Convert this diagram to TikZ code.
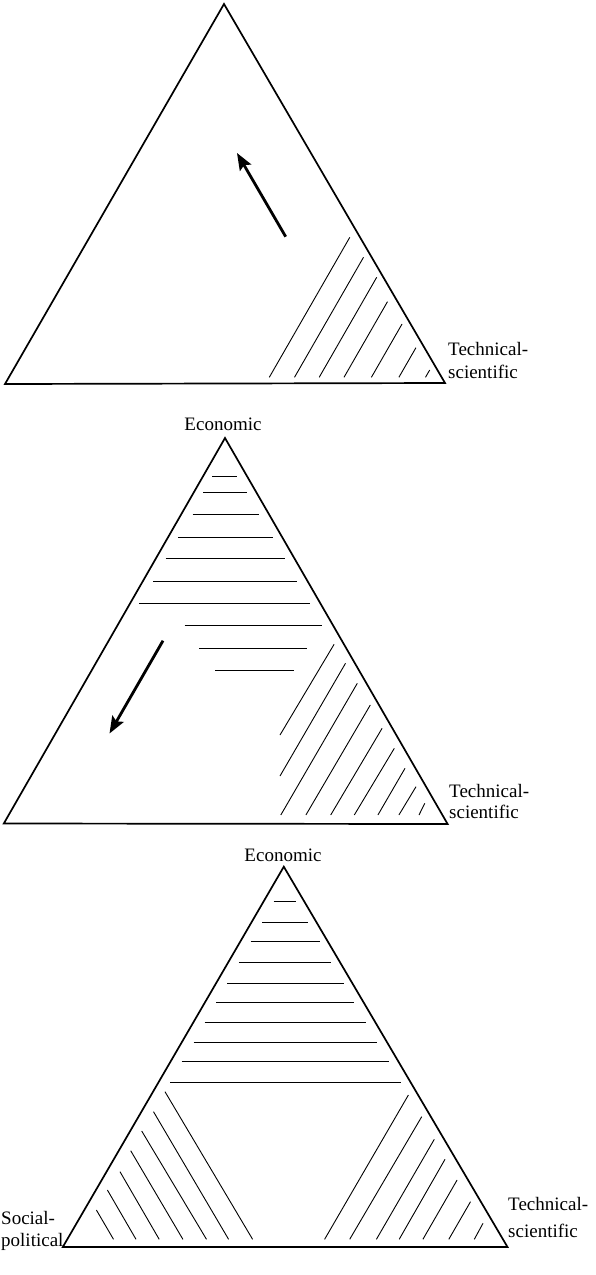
\documentclass[tikz,border=0pt]{standalone}
\usepackage{fontspec}
\setmainfont{Liberation Serif}
\usetikzlibrary{arrows.meta}
\begin{document}
\begin{tikzpicture}[x=1pt,y=-1pt,
  edge/.style={line width=1.7pt, line join=miter},
  hatch/.style={line width=0.9pt},
  push/.style={line width=2.8pt, -{Stealth[length=17pt,width=13pt,inset=3pt]}},
  lbl/.style={font=\fontsize{19}{#1}\selectfont, inner sep=0pt, align=left, anchor=base west},
  lbl/.default=22,
  apexlbl/.style={font=\fontsize{19}{22}\selectfont, inner sep=0pt, anchor=base},
]
\useasboundingbox (0,0) rectangle (596,1275);

% ---------- first triangle ----------
\coordinate (A1) at (224,4);
\coordinate (L1) at (5,384);
\coordinate (R1) at (445,383);
\draw[edge] (L1) -- (A1) -- (R1) -- cycle;
\foreach \bx/\ty in {269.3/237.3, 294.5/257.3, 319.2/277.3, 344/301.7,
                     371.4/324, 398.9/347.7, 425.5/370}
  \draw[hatch] (\bx,377.3) -- ++({(377.3-\ty)*0.575},{\ty-377.3});
\coordinate (t1) at (285.7,236.7);
\coordinate (h1) at (237,153);
\draw[push] (t1) -- (h1);
\node[lbl=23] (ts1) at (448,378) {Technical-\\scientific};

% ---------- second triangle ----------
\coordinate (A2) at (225,438);
\coordinate (L2) at (3.8,823.5);
\coordinate (R2) at (447.6,824);
\draw[edge] (L2) -- (A2) -- (R2) -- cycle;
\foreach \y/\xa/\xb in {476/212/237, 492.7/203/246.8, 514.3/192.7/258.8,
                        537.6/178.2/273, 558.8/165.5/284.8, 581.2/153.4/296.9,
                        603.2/139.2/310, 625.8/184.5/321.8, 648.3/199.4/306.5,
                        670.2/215.3/293.9}
  \draw[hatch] (\xa,\y) -- (\xb,\y);
\foreach \ax/\ay/\bx/\by in {280/735/334.1/644.3, 280/776/345.5/663.3,
                             280.8/815/357.3/683.3, 305.9/815/370.3/705,
                             330.7/815/382.1/728.3, 354.3/815/394.3/748.3,
                             377.9/815/405/768.3, 398.9/815/416/786.7,
                             419/815/424.8/803.3}
  \draw[hatch] (\ax,\ay) -- (\bx,\by);
\coordinate (t2) at (163,640.7);
\coordinate (h2) at (109.5,733.5);
\draw[push] (t2) -- (h2);
\node[apexlbl] (ec2) at (223,430) {Economic};
\node[lbl=21] (ts2) at (449,818) {Technical-\\scientific};

% ---------- third triangle ----------
\coordinate (A3) at (283.8,866.7);
\coordinate (L3) at (62.8,1247);
\coordinate (R3) at (507.5,1247);
\draw[edge] (L3) -- (A3) -- (R3) -- cycle;
\foreach \y/\xa/\xb in {901.7/273.5/296.4, 922.7/262.1/307.8, 941.7/250.7/320,
                        962.7/238.9/331.4, 983.3/227.4/343.6, 1002.7/216/354.3,
                        1022.3/204.6/365.7, 1042/193.5/377.1, 1061.7/181.7/389.3,
                        1082.3/170.3/400.8}
  \draw[hatch] (\xa,\y) -- (\xb,\y);
\foreach \ax/\ay/\bx/\by in {165/1091.7/252.6/1239.3, 153.5/1111.7/228.6/1239.3,
                             141.7/1131/206.5/1239.3, 130.7/1150.7/182.9/1239.3,
                             120/1171.7/159.2/1239.3, 107.4/1190/136/1239.3,
                             96.4/1210/113.5/1239.3}
  \draw[hatch] (\ax,\ay) -- (\bx,\by);
\foreach \ax/\ay/\bx/\by in {324.6/1239.3/408.4/1095, 349.7/1239.3/421.7/1116.7,
                             376.4/1239.3/434.3/1139.3, 399.2/1239.3/445/1159.3,
                             422.9/1239.3/457.1/1180, 448.8/1239.3/470.5/1201.7,
                             474.3/1239.3/483/1223.3}
  \draw[hatch] (\ax,\ay) -- (\bx,\by);
\node[apexlbl] (ec3) at (283,861.5) {Economic};
\node[lbl=27] (ts3) at (508,1237) {Technical-\\scientific};
\node[lbl=21.5] (sp3) at (1,1246) {Social-\\political};
\end{tikzpicture}
\end{document}
